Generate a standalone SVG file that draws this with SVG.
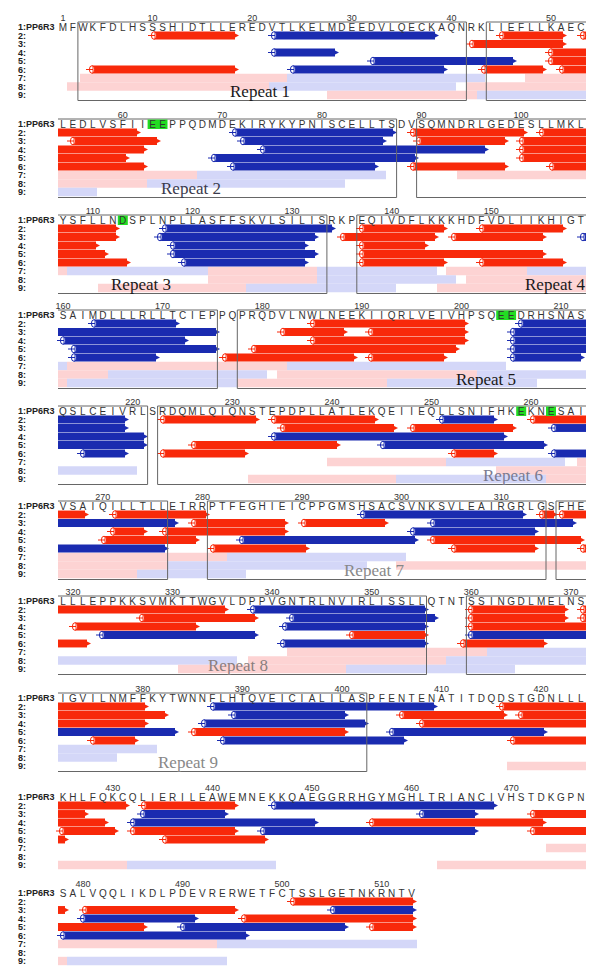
<svg xmlns="http://www.w3.org/2000/svg" width="600" height="976" viewBox="0 0 600 976">
<defs>
<style>
.r{stroke:#f8290a;stroke-width:7.9;fill:none}
.b{stroke:#1a2bb0;stroke-width:7.9;fill:none}
.r.s{marker-start:url(#cR)}
.r.e{marker-end:url(#aR)}
.b.s{marker-start:url(#cB)}
.b.e{marker-end:url(#aB)}
.p{stroke:#fdd3d3;stroke-width:8.4;fill:none}
.q{stroke:#d4d7f8;stroke-width:8.4;fill:none}
.bx{fill:none;stroke:#666;stroke-width:1}
.seq{font-family:"Liberation Sans",Arial,sans-serif;font-size:10px;fill:#333;text-anchor:middle}
.num{font-family:"Liberation Sans",Arial,sans-serif;font-size:9px;fill:#333;text-anchor:middle}
.lb{font-family:"Liberation Sans",Arial,sans-serif;font-size:9px;font-weight:bold;fill:#222}
.rp{font-family:"Liberation Serif","Times New Roman",serif;font-size:17px}
.g{fill:#22dd22}
</style>
<marker id="cR" markerUnits="userSpaceOnUse" markerWidth="1" markerHeight="1" overflow="visible">
<ellipse rx="2.6" ry="3.8" fill="#fff" fill-opacity="0.55" stroke="#f8290a" stroke-width="1"/>
<path d="M-6 0H1" stroke="#f8290a" stroke-width="1"/>
</marker>
<marker id="cB" markerUnits="userSpaceOnUse" markerWidth="1" markerHeight="1" overflow="visible">
<ellipse rx="2.6" ry="3.8" fill="#fff" fill-opacity="0.55" stroke="#1a2bb0" stroke-width="1"/>
<path d="M-6 0H1" stroke="#1a2bb0" stroke-width="1"/>
</marker>
<marker id="aR" markerUnits="userSpaceOnUse" markerWidth="1" markerHeight="1" overflow="visible">
<path d="M0 -2L4 0L0 2Z" fill="#f8290a"/>
</marker>
<marker id="aB" markerUnits="userSpaceOnUse" markerWidth="1" markerHeight="1" overflow="visible">
<path d="M0 -2L4 0L0 2Z" fill="#1a2bb0"/>
</marker>
</defs>
<rect width="600" height="976" fill="#fff"/>

<g id="block1" transform="translate(0,27)">
<path class="p" d="M80 51H287"/><path class="q" d="M287 51H485"/><path class="p" d="M525 51H586"/>
<path class="p" d="M67 59.5H269"/><path class="q" d="M269 59.5H456"/><path class="p" d="M467 59.5H586"/>
<path class="p" d="M327 68H477"/><path class="q" d="M477 68H586"/>
<path class="r s e" d="M154 8.5H235"/><path class="b s e" d="M274 8.5H435"/><path class="r s e" d="M502 8.5H563"/><path class="r s" d="M583 8.5H586"/>
<path class="r s e" d="M472 17H563"/>
<path class="b s e" d="M274 25.5H335"/><path class="r s" d="M551 25.5H586"/>
<path class="b s e" d="M373 34H513"/><path class="r s" d="M551 34H586"/>
<path class="r s e" d="M92 42.5H235"/><path class="b s e" d="M293 42.5H444"/><path class="r s e" d="M484 42.5H543"/><path class="r s" d="M562 42.5H586"/>
<path class="bx" d="M77.9 -5V73.5H466.4V-5Z"/><path class="bx" d="M586 -5H486.3V73.5H586"/>
<text class="num" y="-6"><tspan x="63">1</tspan><tspan x="152.6">10</tspan><tspan x="252.2">20</tspan><tspan x="351.8">30</tspan><tspan x="451.4">40</tspan><tspan x="551">50</tspan></text>
<text class="seq" y="3.5" x="63 72.9 82.9 92.9 102.8 112.8 122.7 132.7 142.7 152.6 162.6 172.5 182.5 192.5 202.4 212.4 222.3 232.3 242.3 252.2 262.2 272.1 282.1 292.1 302 312 321.9 331.9 341.9 351.8 361.8 371.7 381.7 391.7 401.6 411.6 421.5 431.5 441.5 451.4 461.4 471.3 481.3 491.3 501.2 511.2 521.1 531.1 541.1 551 561 570.9 580.9">MFWKFDLHSSSHIDTLLEREDVTLKELMDEEDVLQECKAQNRKLIEFLLKAEC</text>
<text class="lb" x="18" y="3.3">1:PP6R3<tspan x="18" y="11.7">2:</tspan><tspan x="18" y="20.2">3:</tspan><tspan x="18" y="28.7">4:</tspan><tspan x="18" y="37.2">5:</tspan><tspan x="18" y="45.7">6:</tspan><tspan x="18" y="54.2">7:</tspan><tspan x="18" y="62.7">8:</tspan><tspan x="18" y="71.2">9:</tspan></text>
<text class="rp" x="230" y="70" fill="#1a1a1a">Repeat 1</text>
</g>

<g id="block2" transform="translate(0,124)">
<path class="p" d="M58 51H197"/><path class="q" d="M197 51H386"/><path class="p" d="M457 51H586"/>
<path class="p" d="M58 59.5H147"/><path class="q" d="M147 59.5H345"/>
<path class="q" d="M58 68H97"/>
<path class="r e" d="M58 8.5H137"/><path class="b s e" d="M235 8.5H393"/><path class="r s e" d="M413 8.5H524"/><path class="r s" d="M542 8.5H586"/>
<path class="r s e" d="M73 17H157"/><path class="b s e" d="M243 17H383"/><path class="r s e" d="M419 17H505"/><path class="r s" d="M522 17H586"/>
<path class="r e" d="M58 25.5H144"/><path class="b s e" d="M263 25.5H485"/><path class="r s" d="M522 25.5H586"/>
<path class="r e" d="M58 34H126"/><path class="b s e" d="M214 34H415"/><path class="r s" d="M522 34H586"/>
<path class="r e" d="M58 42.5H144"/><path class="b s e" d="M233 42.5H375"/><path class="r s e" d="M413 42.5H505"/><path class="r s" d="M552 42.5H586"/>
<path class="bx" d="M58 -5H396.6V73.5H58"/><path class="bx" d="M586 -5H416.6V73.5H586"/>
<rect class="g" x="147.6" y="-4.5" width="19.9" height="9.5"/>
<text class="num" y="-6"><tspan x="122.7">60</tspan><tspan x="222.3">70</tspan><tspan x="321.9">80</tspan><tspan x="421.5">90</tspan><tspan x="521.1">100</tspan></text>
<text class="seq" y="3.5" x="63 72.9 82.9 92.9 102.8 112.8 122.7 132.7 142.7 152.6 162.6 172.5 182.5 192.5 202.4 212.4 222.3 232.3 242.3 252.2 262.2 272.1 282.1 292.1 302 312 321.9 331.9 341.9 351.8 361.8 371.7 381.7 391.7 401.6 411.6 421.5 431.5 441.5 451.4 461.4 471.3 481.3 491.3 501.2 511.2 521.1 531.1 541.1 551 561 570.9 580.9">LEDLVSFIIEEPPQDMDEKIRYKYPNISCELLTSDVSQMNDRLGEDESLLMKL</text>
<text class="lb" x="18" y="3.3">1:PP6R3<tspan x="18" y="11.7">2:</tspan><tspan x="18" y="20.2">3:</tspan><tspan x="18" y="28.7">4:</tspan><tspan x="18" y="37.2">5:</tspan><tspan x="18" y="45.7">6:</tspan><tspan x="18" y="54.2">7:</tspan><tspan x="18" y="62.7">8:</tspan><tspan x="18" y="71.2">9:</tspan></text>
<text class="rp" x="161" y="70" fill="#3a3a4c">Repeat 2</text>
</g>

<g id="block3" transform="translate(0,220)">
<path class="p" d="M58 51H67"/><path class="q" d="M67 51H208"/><path class="p" d="M208 51H317"/><path class="q" d="M317 51H437"/><path class="p" d="M446 51H527"/><path class="q" d="M527 51H586"/>
<path class="p" d="M208 59.5H317"/><path class="q" d="M317 59.5H456"/><path class="p" d="M466 59.5H586"/>
<path class="p" d="M98 68H246"/><path class="q" d="M246 68H396"/><path class="p" d="M437 68H586"/>
<path class="r e" d="M58 8.5H116"/><path class="b s e" d="M165 8.5H332"/><path class="r s e" d="M362 8.5H444"/><path class="r s e" d="M482 8.5H563"/>
<path class="r e" d="M58 17H116"/><path class="b s e" d="M160 17H315"/><path class="r s e" d="M343 17H435"/><path class="r s e" d="M454 17H543"/><path class="b s" d="M583 17H586"/>
<path class="r e" d="M58 25.5H96"/><path class="b s e" d="M173 25.5H305"/><path class="r s e" d="M362 25.5H425"/>
<path class="r e" d="M58 34H105"/><path class="b s e" d="M173 34H315"/><path class="r s e" d="M362 34H543"/>
<path class="r e" d="M58 42.5H127"/><path class="b s e" d="M184 42.5H305"/><path class="r s e" d="M362 42.5H444"/><path class="r s e" d="M482 42.5H563"/>
<path class="bx" d="M58 -5H326.9V73.5H58"/><path class="bx" d="M586 -5H356.8V73.5H586"/>
<rect class="g" x="117.8" y="-4.5" width="10" height="9.5"/>
<text class="num" y="-6"><tspan x="92.9">110</tspan><tspan x="192.5">120</tspan><tspan x="292.1">130</tspan><tspan x="391.7">140</tspan><tspan x="491.3">150</tspan></text>
<text class="seq" y="3.5" x="63 72.9 82.9 92.9 102.8 112.8 122.7 132.7 142.7 152.6 162.6 172.5 182.5 192.5 202.4 212.4 222.3 232.3 242.3 252.2 262.2 272.1 282.1 292.1 302 312 321.9 331.9 341.9 351.8 361.8 371.7 381.7 391.7 401.6 411.6 421.5 431.5 441.5 451.4 461.4 471.3 481.3 491.3 501.2 511.2 521.1 531.1 541.1 551 561 570.9 580.9">YSFLLNDSPLNPLLASFFSKVLSILISRKPEQIVDFLKKKHDFVDLIIKHIGT</text>
<text class="lb" x="18" y="3.3">1:PP6R3<tspan x="18" y="11.7">2:</tspan><tspan x="18" y="20.2">3:</tspan><tspan x="18" y="28.7">4:</tspan><tspan x="18" y="37.2">5:</tspan><tspan x="18" y="45.7">6:</tspan><tspan x="18" y="54.2">7:</tspan><tspan x="18" y="62.7">8:</tspan><tspan x="18" y="71.2">9:</tspan></text>
<text class="rp" x="111" y="70" fill="#1a1a1a">Repeat 3</text>
<text class="rp" x="525" y="70" fill="#1a1a1a">Repeat 4</text>
</g>

<g id="block4" transform="translate(0,315)">
<path class="q" d="M58 51H67"/><path class="p" d="M67 51H287"/><path class="q" d="M287 51H506"/>
<path class="p" d="M58 59.5H108"/><path class="q" d="M108 59.5H267"/><path class="p" d="M277 59.5H477"/><path class="q" d="M477 59.5H586"/>
<path class="p" d="M58 68H67"/><path class="q" d="M67 68H237"/><path class="p" d="M237 68H387"/><path class="q" d="M387 68H537"/>
<path class="b s e" d="M94 8.5H176"/><path class="r s e" d="M313 8.5H465"/><path class="b s" d="M521 8.5H586"/>
<path class="b e" d="M58 17H216"/><path class="r s e" d="M283 17H344"/><path class="r s e" d="M371 17H465"/><path class="b s" d="M513 17H586"/>
<path class="b s e" d="M63 25.5H185"/><path class="r s e" d="M313 25.5H465"/><path class="b s" d="M513 25.5H586"/>
<path class="b s e" d="M74 34H216"/><path class="r s e" d="M254 34H456"/><path class="b s" d="M513 34H586"/>
<path class="b s e" d="M74 42.5H156"/><path class="r s e" d="M225 42.5H354"/><path class="r s e" d="M371 42.5H444"/><path class="b s e" d="M513 42.5H581"/>
<path class="bx" d="M58 -5H217.4V73.5H58"/><path class="bx" d="M586 -5H237.3V73.5H586"/>
<rect class="g" x="496.2" y="-4.5" width="19.9" height="9.5"/>
<text class="num" y="-6"><tspan x="63">160</tspan><tspan x="162.6">170</tspan><tspan x="262.2">180</tspan><tspan x="361.8">190</tspan><tspan x="461.4">200</tspan><tspan x="561">210</tspan></text>
<text class="seq" y="3.5" x="63 72.9 82.9 92.9 102.8 112.8 122.7 132.7 142.7 152.6 162.6 172.5 182.5 192.5 202.4 212.4 222.3 232.3 242.3 252.2 262.2 272.1 282.1 292.1 302 312 321.9 331.9 341.9 351.8 361.8 371.7 381.7 391.7 401.6 411.6 421.5 431.5 441.5 451.4 461.4 471.3 481.3 491.3 501.2 511.2 521.1 531.1 541.1 551 561 570.9 580.9">SAIMDLLLRLLTCIEPPQPRQDVLNWLNEEKIIQRLVEIVHPSQEEDRHSNAS</text>
<text class="lb" x="18" y="3.3">1:PP6R3<tspan x="18" y="11.7">2:</tspan><tspan x="18" y="20.2">3:</tspan><tspan x="18" y="28.7">4:</tspan><tspan x="18" y="37.2">5:</tspan><tspan x="18" y="45.7">6:</tspan><tspan x="18" y="54.2">7:</tspan><tspan x="18" y="62.7">8:</tspan><tspan x="18" y="71.2">9:</tspan></text>
<text class="rp" x="456" y="70" fill="#1a1a1a">Repeat 5</text>
</g>

<g id="block5" transform="translate(0,411)">
<path class="p" d="M327 51H446"/><path class="q" d="M446 51H565"/><path class="p" d="M577 51H586"/>
<path class="q" d="M58 59.5H137"/><path class="p" d="M496 59.5H586"/>
<path class="p" d="M248 68H396"/><path class="q" d="M396 68H546"/><path class="p" d="M546 68H586"/>
<path class="b e" d="M58 8.5H125"/><path class="r s e" d="M163 8.5H256"/><path class="r s e" d="M274 8.5H375"/><path class="b s e" d="M442 8.5H494"/><path class="r s" d="M533 8.5H586"/>
<path class="b e" d="M58 17H125"/><path class="r s e" d="M283 17H394"/><path class="r s e" d="M413 17H513"/><path class="b s" d="M554 17H586"/>
<path class="b e" d="M58 25.5H144"/><path class="b s e" d="M274 25.5H504"/>
<path class="b e" d="M58 34H144"/><path class="r s e" d="M194 34H337"/><path class="b s e" d="M383 34H544"/>
<path class="b s e" d="M83 42.5H125"/><path class="r s e" d="M163 42.5H245"/><path class="r s e" d="M454 42.5H494"/><path class="b s" d="M554 42.5H586"/>
<path class="bx" d="M58 -5H147.6V73.5H58"/><path class="bx" d="M586 -5H157.6V73.5H586"/>
<rect class="g" x="516.2" y="-4.5" width="10" height="9.5"/><rect class="g" x="546" y="-4.5" width="10" height="9.5"/>
<text class="num" y="-6"><tspan x="132.7">220</tspan><tspan x="232.3">230</tspan><tspan x="331.9">240</tspan><tspan x="431.5">250</tspan><tspan x="531.1">260</tspan></text>
<text class="seq" y="3.5" x="63 72.9 82.9 92.9 102.8 112.8 122.7 132.7 142.7 152.6 162.6 172.5 182.5 192.5 202.4 212.4 222.3 232.3 242.3 252.2 262.2 272.1 282.1 292.1 302 312 321.9 331.9 341.9 351.8 361.8 371.7 381.7 391.7 401.6 411.6 421.5 431.5 441.5 451.4 461.4 471.3 481.3 491.3 501.2 511.2 521.1 531.1 541.1 551 561 570.9 580.9">QSLCEIVRLSRDQMLQIQNSTEPDPLLATLEKQEIIEQLLSNIFHKEKNESAI</text>
<text class="lb" x="18" y="3.3">1:PP6R3<tspan x="18" y="11.7">2:</tspan><tspan x="18" y="20.2">3:</tspan><tspan x="18" y="28.7">4:</tspan><tspan x="18" y="37.2">5:</tspan><tspan x="18" y="45.7">6:</tspan><tspan x="18" y="54.2">7:</tspan><tspan x="18" y="62.7">8:</tspan><tspan x="18" y="71.2">9:</tspan></text>
<text class="rp" x="483" y="70" fill="#7a7a90">Repeat 6</text>
</g>

<g id="block6" transform="translate(0,506)">
<path class="p" d="M58 51H227"/><path class="q" d="M227 51H406"/>
<path class="p" d="M58 59.5H167"/><path class="q" d="M167 59.5H367"/><path class="p" d="M396 59.5H586"/>
<path class="p" d="M58 68H137"/><path class="q" d="M137 68H246"/>
<path class="r e" d="M58 8.5H85"/><path class="r s e" d="M115 8.5H206"/><path class="b s e" d="M363 8.5H523"/><path class="r s e" d="M542 8.5H554"/><path class="r s" d="M562 8.5H586"/>
<path class="b e" d="M58 17H175"/><path class="r s e" d="M194 17H285"/><path class="r s e" d="M304 17H385"/><path class="b s e" d="M433 17H573"/>
<path class="r s e" d="M113 25.5H144"/><path class="r s e" d="M165 25.5H285"/><path class="b s e" d="M413 25.5H535"/>
<path class="r s e" d="M104 34H196"/><path class="b s e" d="M242 34H415"/><path class="r s e" d="M433 34H581"/>
<path class="b e" d="M58 42.5H165"/><path class="r s e" d="M213 42.5H306"/><path class="r s e" d="M454 42.5H535"/><path class="r s" d="M583 42.5H586"/>
<path class="bx" d="M58 -5H167.6V73.5H58"/><path class="bx" d="M207.4 -5V73.5H546V-5Z"/><path class="bx" d="M586 -5H556V73.5H586"/>
<text class="num" y="-6"><tspan x="102.8">270</tspan><tspan x="202.4">280</tspan><tspan x="302">290</tspan><tspan x="401.6">300</tspan><tspan x="501.2">310</tspan></text>
<text class="seq" y="3.5" x="63 72.9 82.9 92.9 102.8 112.8 122.7 132.7 142.7 152.6 162.6 172.5 182.5 192.5 202.4 212.4 222.3 232.3 242.3 252.2 262.2 272.1 282.1 292.1 302 312 321.9 331.9 341.9 351.8 361.8 371.7 381.7 391.7 401.6 411.6 421.5 431.5 441.5 451.4 461.4 471.3 481.3 491.3 501.2 511.2 521.1 531.1 541.1 551 561 570.9 580.9">VSAIQILLTLLETRRPTFEGHIEICPPGMSHSACSVNKSVLEAIRGRLGSFHE</text>
<text class="lb" x="18" y="3.3">1:PP6R3<tspan x="18" y="11.7">2:</tspan><tspan x="18" y="20.2">3:</tspan><tspan x="18" y="28.7">4:</tspan><tspan x="18" y="37.2">5:</tspan><tspan x="18" y="45.7">6:</tspan><tspan x="18" y="54.2">7:</tspan><tspan x="18" y="62.7">8:</tspan><tspan x="18" y="71.2">9:</tspan></text>
<text class="rp" x="344" y="70" fill="#888">Repeat 7</text>
</g>

<g id="block7" transform="translate(0,601)">
<path class="p" d="M287 51H487"/><path class="q" d="M487 51H586"/>
<path class="q" d="M58 59.5H237"/><path class="p" d="M248 59.5H446"/><path class="q" d="M446 59.5H586"/>
<path class="p" d="M178 68H346"/><path class="q" d="M346 68H515"/>
<path class="r e" d="M58 8.5H225"/><path class="b s e" d="M253 8.5H425"/><path class="r s e" d="M471 8.5H565"/><path class="r s" d="M583 8.5H586"/>
<path class="r s e" d="M142 17H255"/><path class="b s e" d="M292 17H435"/><path class="r s e" d="M471 17H565"/><path class="r s" d="M583 17H586"/>
<path class="r s e" d="M75 25.5H196"/><path class="b s e" d="M285 25.5H425"/><path class="r s" d="M471 25.5H586"/>
<path class="b s e" d="M102 34H255"/><path class="r s e" d="M352 34H425"/><path class="b s" d="M471 34H586"/>
<path class="r e" d="M58 42.5H87"/><path class="b s e" d="M283 42.5H425"/><path class="r s e" d="M463 42.5H544"/>
<path class="bx" d="M58 -5H426.5V73.5H58"/><path class="bx" d="M586 -5H466.4V73.5H586"/>
<text class="num" y="-6"><tspan x="72.9">320</tspan><tspan x="172.5">330</tspan><tspan x="272.1">340</tspan><tspan x="371.7">350</tspan><tspan x="471.3">360</tspan><tspan x="570.9">370</tspan></text>
<text class="seq" y="3.5" x="63 72.9 82.9 92.9 102.8 112.8 122.7 132.7 142.7 152.6 162.6 172.5 182.5 192.5 202.4 212.4 222.3 232.3 242.3 252.2 262.2 272.1 282.1 292.1 302 312 321.9 331.9 341.9 351.8 361.8 371.7 381.7 391.7 401.6 411.6 421.5 431.5 441.5 451.4 461.4 471.3 481.3 491.3 501.2 511.2 521.1 531.1 541.1 551 561 570.9 580.9">LLLEPPKKSVMKTTWGVLDPPVGNTRLNVIRLISSLLQTNTSSINGDLMELNS</text>
<text class="lb" x="18" y="3.3">1:PP6R3<tspan x="18" y="11.7">2:</tspan><tspan x="18" y="20.2">3:</tspan><tspan x="18" y="28.7">4:</tspan><tspan x="18" y="37.2">5:</tspan><tspan x="18" y="45.7">6:</tspan><tspan x="18" y="54.2">7:</tspan><tspan x="18" y="62.7">8:</tspan><tspan x="18" y="71.2">9:</tspan></text>
<text class="rp" x="208" y="70" fill="#8a7e7e">Repeat 8</text>
</g>

<g id="block8" transform="translate(0,698)">
<path class="q" d="M58 51H157"/>
<path class="q" d="M58 59.5H117"/>
<path class="p" d="M507 68H586"/>
<path class="r e" d="M58 8.5H145"/><path class="b s e" d="M213 8.5H434"/><path class="r s" d="M502 8.5H586"/>
<path class="r e" d="M58 17H165"/><path class="b s e" d="M234 17H345"/><path class="r s e" d="M402 17H504"/><path class="r s" d="M521 17H586"/>
<path class="r e" d="M58 25.5H145"/><path class="b s e" d="M204 25.5H365"/><path class="r s" d="M422 25.5H586"/>
<path class="b e" d="M58 34H175"/><path class="r s e" d="M194 34H345"/><path class="b s e" d="M392 34H544"/>
<path class="r s e" d="M93 42.5H135"/><path class="b s e" d="M223 42.5H404"/><path class="r s" d="M513 42.5H586"/>
<path class="bx" d="M58 -5H366.8V73.5H58"/>
<text class="num" y="-6"><tspan x="142.7">380</tspan><tspan x="242.3">390</tspan><tspan x="341.9">400</tspan><tspan x="441.5">410</tspan><tspan x="541.1">420</tspan></text>
<text class="seq" y="3.5" x="63 72.9 82.9 92.9 102.8 112.8 122.7 132.7 142.7 152.6 162.6 172.5 182.5 192.5 202.4 212.4 222.3 232.3 242.3 252.2 262.2 272.1 282.1 292.1 302 312 321.9 331.9 341.9 351.8 361.8 371.7 381.7 391.7 401.6 411.6 421.5 431.5 441.5 451.4 461.4 471.3 481.3 491.3 501.2 511.2 521.1 531.1 541.1 551 561 570.9 580.9">IGVILNMFFKYTWNNFLHTQVEICIALILASPFENTENATITDQDSTGDNLLL</text>
<text class="lb" x="18" y="3.3">1:PP6R3<tspan x="18" y="11.7">2:</tspan><tspan x="18" y="20.2">3:</tspan><tspan x="18" y="28.7">4:</tspan><tspan x="18" y="37.2">5:</tspan><tspan x="18" y="45.7">6:</tspan><tspan x="18" y="54.2">7:</tspan><tspan x="18" y="62.7">8:</tspan><tspan x="18" y="71.2">9:</tspan></text>
<text class="rp" x="158" y="70" fill="#888">Repeat 9</text>
</g>

<g id="block9" transform="translate(0,797)">
<path class="p" d="M546 51H586"/>
<path class="p" d="M58 68H127"/><path class="q" d="M127 68H276"/><path class="p" d="M437 68H586"/>
<path class="r e" d="M58 8.5H126"/><path class="r s e" d="M144 8.5H235"/><path class="b s e" d="M274 8.5H494"/>
<path class="r e" d="M58 17H85"/><path class="b s e" d="M143 17H225"/><path class="b s e" d="M422 17H475"/><path class="r s" d="M533 17H586"/>
<path class="r e" d="M58 25.5H105"/><path class="b s e" d="M133 25.5H315"/><path class="r s e" d="M372 25.5H543"/>
<path class="r s e" d="M62 34H115"/><path class="r s e" d="M133 34H235"/><path class="b s e" d="M263 34H475"/><path class="r s" d="M533 34H586"/>
<path class="r e" d="M58 42.5H65"/><path class="r s e" d="M165 42.5H265"/>
<text class="num" y="-6"><tspan x="112.8">430</tspan><tspan x="212.4">440</tspan><tspan x="312">450</tspan><tspan x="411.6">460</tspan><tspan x="511.2">470</tspan></text>
<text class="seq" y="3.5" x="63 72.9 82.9 92.9 102.8 112.8 122.7 132.7 142.7 152.6 162.6 172.5 182.5 192.5 202.4 212.4 222.3 232.3 242.3 252.2 262.2 272.1 282.1 292.1 302 312 321.9 331.9 341.9 351.8 361.8 371.7 381.7 391.7 401.6 411.6 421.5 431.5 441.5 451.4 461.4 471.3 481.3 491.3 501.2 511.2 521.1 531.1 541.1 551 561 570.9 580.9">KHLFQKCQLIERILEAWEMNEKKQAEGGRRHGYMGHLTRIANCIVHSTDKGPN</text>
<text class="lb" x="18" y="3.3">1:PP6R3<tspan x="18" y="11.7">2:</tspan><tspan x="18" y="20.2">3:</tspan><tspan x="18" y="28.7">4:</tspan><tspan x="18" y="37.2">5:</tspan><tspan x="18" y="45.7">6:</tspan><tspan x="18" y="54.2">7:</tspan><tspan x="18" y="62.7">8:</tspan><tspan x="18" y="71.2">9:</tspan></text>
</g>

<g id="block10" transform="translate(0,893)">
<path class="p" d="M58 51H217"/><path class="q" d="M217 51H417"/>
<path class="p" d="M58 68H67"/><path class="q" d="M67 68H227"/>
<path class="r s e" d="M293 8.5H413"/>
<path class="r e" d="M58 17H65"/><path class="r s e" d="M85 17H235"/><path class="b s e" d="M333 17H413"/>
<path class="b s e" d="M83 25.5H195"/><path class="r s e" d="M244 25.5H413"/>
<path class="r e" d="M58 34H144"/><path class="b s e" d="M183 34H345"/><path class="r s e" d="M372 34H413"/>
<path class="b s e" d="M63 42.5H246"/>
<text class="num" y="-6"><tspan x="82.9">480</tspan><tspan x="182.5">490</tspan><tspan x="282.1">500</tspan><tspan x="381.7">510</tspan></text>
<text class="seq" y="3.5" x="63 72.9 82.9 92.9 102.8 112.8 122.7 132.7 142.7 152.6 162.6 172.5 182.5 192.5 202.4 212.4 222.3 232.3 242.3 252.2 262.2 272.1 282.1 292.1 302 312 321.9 331.9 341.9 351.8 361.8 371.7 381.7 391.7 401.6 411.6">SALVQQLIKDLPDEVRERWETFCTSSLGETNKRNTV</text>
<text class="lb" x="18" y="3.3">1:PP6R3<tspan x="18" y="11.7">2:</tspan><tspan x="18" y="20.2">3:</tspan><tspan x="18" y="28.7">4:</tspan><tspan x="18" y="37.2">5:</tspan><tspan x="18" y="45.7">6:</tspan><tspan x="18" y="54.2">7:</tspan><tspan x="18" y="62.7">8:</tspan><tspan x="18" y="71.2">9:</tspan></text>
</g>
</svg>
